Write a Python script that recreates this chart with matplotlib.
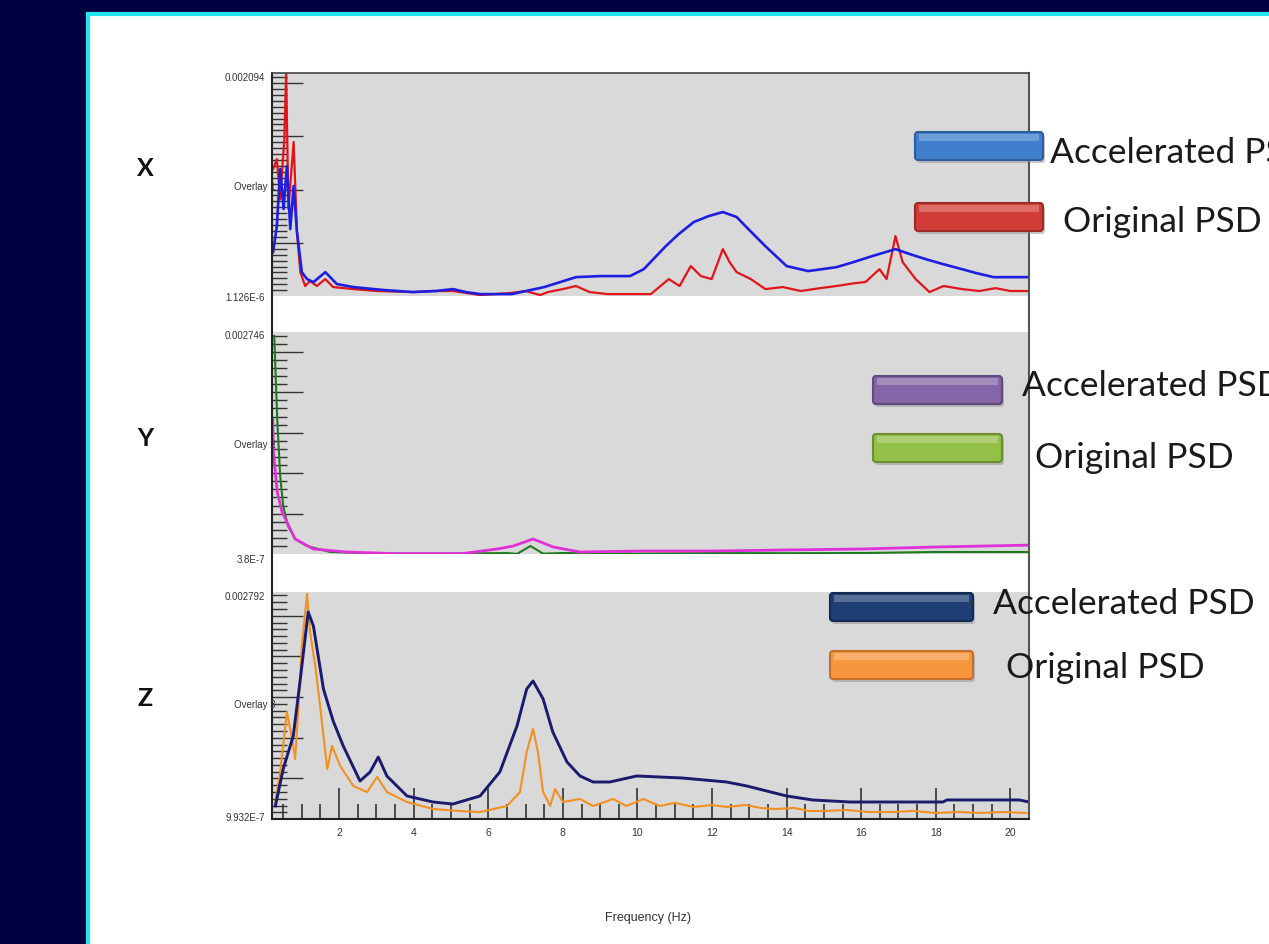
import numpy as np
import matplotlib
matplotlib.use('agg')
import matplotlib.pyplot as plt
from matplotlib.patches import Rectangle, FancyBboxPatch
from matplotlib.ticker import MultipleLocator, AutoMinorLocator

W, H = 1269, 945
PSD_SCALE = 1e-4   # values below are in 1e-4 g^2/Hz

# ---- X direction ----
freq_x_acc = [0.23, 0.33, 0.42, 0.51, 0.60, 0.69, 0.78, 0.87, 1.0, 1.14, 1.31, 1.63, 1.94,
              2.38, 3.2, 3.98, 4.6, 5.05, 5.4, 5.78, 6.63, 7.5, 8.35, 9.0, 9.8, 10.17, 10.76,
              11.1, 11.51, 11.9, 12.29, 12.66, 13.0, 13.43, 14.0, 14.58, 15.34, 15.8, 16.3,
              16.92, 17.3, 17.73, 18.2, 18.7, 19.1, 19.55, 20.5]
psd_x_acc = [4.13, 6.57, 11.92, 8.17, 12.2, 6.29, 10.33, 6.01, 2.25, 1.6, 1.31, 2.25, 1.13,
             0.85, 0.57, 0.38, 0.48, 0.66, 0.38, 0.19, 0.19, 0.85, 1.78, 1.88, 1.88, 2.53, 4.69,
             5.8, 6.95, 7.5, 7.89, 7.42, 6.2, 4.69, 2.82, 2.35, 2.72, 3.2, 3.76,
             4.41, 3.95, 3.47, 3.0, 2.53, 2.15, 1.78, 1.78]
freq_x_orig = [0.23, 0.33, 0.42, 0.53, 0.58, 0.64, 0.78, 0.87, 0.96, 1.09, 1.22, 1.40, 1.63,
               1.84, 2.38, 3.0, 3.98, 4.5, 5.05, 5.78, 6.6, 7.0, 7.39, 7.6, 8.0, 8.35, 8.72,
               9.2, 9.8, 10.36, 10.84, 11.13, 11.43, 11.7, 11.99, 12.29, 12.47, 12.66, 13.04,
               13.43, 13.9, 14.38, 14.9, 15.34, 15.8, 16.12, 16.49, 16.68, 16.92, 17.11, 17.46,
               17.83, 18.21, 18.7, 19.17, 19.6, 20.0, 20.5]
psd_x_orig = [11.92, 12.86, 9.1, 14.7, 20.9, 8.17, 14.46, 6.01, 2.25, 0.95, 1.42, 0.95, 1.6,
              0.85, 0.66, 0.48, 0.38, 0.48, 0.48, 0.10, 0.29, 0.48, 0.10, 0.38, 0.66, 0.95, 0.38,
              0.19, 0.19, 0.19, 1.6, 0.95, 2.82, 1.88, 1.6, 4.41, 3.2, 2.25, 1.6,
              0.66, 0.85, 0.48, 0.75, 0.95, 1.2, 1.33, 2.53, 1.6, 5.64, 3.2, 1.6,
              0.38, 0.95, 0.66, 0.48, 0.75, 0.48, 0.48]

# ---- Y direction ----
freq_y_acc = [0.22, 0.24, 0.34, 0.47, 0.60, 0.82, 1.31, 2.2, 3.5, 5.3, 6.23, 6.67, 7.2,
              7.74, 8.46, 10.0, 12.0, 14.0, 16.0, 18.0, 20.5]
psd_y_acc = [16.7, 12.6, 7.67, 5.2, 3.96, 1.86, 0.62, 0.25, 0.05, 0.05, 0.62, 0.99, 1.86,
             0.87, 0.25, 0.37, 0.37, 0.5, 0.62, 0.87, 1.1]
freq_y_orig = [0.26, 0.34, 0.42, 0.50, 0.63, 0.82, 1.14, 1.76, 3.0, 5.0, 6.5, 6.77, 7.13,
               7.47, 8.0, 10.0, 12.0, 14.0, 16.0, 18.0, 20.5]
psd_y_orig = [26.97, 16.7, 9.65, 5.94, 3.46, 1.86, 0.99, 0.25, 0.05, 0.05, 0.12, 0.02, 0.99,
              0.05, 0.12, 0.05, 0.12, 0.1, 0.12, 0.25, 0.25]

# ---- Z direction ----
freq_z_acc = [0.29, 0.50, 0.77, 0.96, 1.17, 1.31, 1.58, 1.84, 2.11, 2.56, 2.83, 3.05, 3.28,
              3.82, 4.52, 5.05, 5.78, 6.31, 6.77, 7.03, 7.2, 7.47, 7.73, 8.11, 8.46, 8.81,
              9.26, 9.98, 11.2, 12.39, 12.93, 14.0, 14.7, 15.7, 18.19, 18.3, 20.24, 20.5]
psd_z_acc = [1.61, 6.16, 10.22, 17.23, 25.47, 23.75, 16.0, 12.06, 8.99, 4.68, 5.79, 7.63, 5.3,
             2.84, 2.1, 1.85, 2.84, 5.79, 11.45, 16.0, 16.98, 14.77, 10.71, 7.02, 5.3, 4.56,
             4.56, 5.3, 5.05, 4.56, 4.07, 2.84, 2.35, 2.1, 2.1, 2.35, 2.35, 2.1]
freq_z_orig = [0.29, 0.42, 0.60, 0.74, 0.82, 0.90, 1.0, 1.14, 1.22, 1.36, 1.49, 1.68, 1.81,
               2.03, 2.38, 2.75, 3.02, 3.28, 3.82, 4.52, 5.2, 5.78, 6.5, 6.85, 7.03, 7.2,
               7.33, 7.47, 7.66, 7.79, 8.0, 8.46, 8.81, 9.35, 9.7, 10.16, 10.6, 11.0, 11.5,
               12.0, 12.4, 12.9, 13.3, 13.7, 14.2, 14.6, 15.07, 15.6, 16.2, 16.85, 17.4,
               18.0, 18.63, 19.2, 19.8, 20.43]
psd_z_orig = [2.1, 5.79, 13.17, 9.85, 7.39, 13.17, 21.29, 27.7, 23.0, 18.83, 13.91, 6.16, 8.99,
              6.53, 4.07, 3.33, 5.18, 3.33, 2.1, 1.24, 1.0, 0.87, 1.61, 3.33, 8.25, 11.08,
              8.25, 3.33, 1.61, 3.7, 2.1, 2.47, 1.61, 2.47, 1.61, 2.47, 1.61, 2.0, 1.49,
              1.73, 1.49, 1.73, 1.37, 1.24, 1.37, 1.0, 1.0, 1.12, 0.87, 0.87, 1.0,
              0.75, 0.87, 0.75, 0.87, 0.75]

y_limits = [(1.126e-6, 0.002094), (3.8e-7, 0.002746), (9.932e-7, 0.002792)]
y_top_labels = ['0.002094', '0.002746', '0.002792']
y_bottom_labels = ['1.126E-6', '3.8E-7', '9.932E-7']
overlay_labels = ['Overlay 1', 'Overlay 2', 'Overlay 3']
axis_names = ['X', 'Y', 'Z']
legend_labels = ['Accelerated PSD', 'Original PSD']
x_tick_values = [2, 4, 6, 8, 10, 12, 14, 16, 18, 20]

series = [
    (freq_x_acc, psd_x_acc, freq_x_orig, psd_x_orig),
    (freq_y_acc, psd_y_acc, freq_y_orig, psd_y_orig),
    (freq_z_acc, psd_z_acc, freq_z_orig, psd_z_orig),
]
line_colors = [('#1c1ee0', '#e0141a'), ('#e030d8', '#1e7a1e'), ('#1a1a6e', '#f39020')]
line_widths = [(1.9, 1.6), (2.0, 1.5), (2.1, 1.5)]
box_colors = [('#3f7fcc', '#2d5e9c'), ('#d23c36', '#9e2a26'),
              ('#8466a6', '#5e4a7c'), ('#93c047', '#6c8f30'),
              ('#1f3f75', '#142a50'), ('#f7963c', '#c2702a')]
minor_counts = [9, 5, 6]

# pixel layout of the three panels
panel_top = [74, 333, 593]
panel_bottom = [297, 555, 820]
plot_left, plot_right = 272, 1029


def fig_box(left, top, right, bottom):
    return [left / W, 1 - bottom / H, (right - left) / W, (bottom - top) / H]


fig = plt.figure(figsize=(W / 100, H / 100), dpi=100, facecolor='#010142')

# slide background with cyan border
bg = fig.add_axes([0, 0, 1, 1], zorder=-5)
bg.set_xlim(0, W)
bg.set_ylim(H, 0)
bg.axis('off')
bg.add_patch(Rectangle((88, 15), 1300, 1000, fc='white', ec='#25e3f0', lw=3))

for i in range(3):
    ax = fig.add_axes(fig_box(plot_left, panel_top[i], plot_right, panel_bottom[i]), zorder=1)
    ax.set_facecolor('#d9d9d9')
    fa, pa, fo, po = series[i]
    ca, co = line_colors[i]
    wa, wo = line_widths[i]
    if i == 0:
        ax.plot(fa, np.array(pa) * PSD_SCALE, color=ca, lw=wa, zorder=3)
        ax.plot(fo, np.array(po) * PSD_SCALE, color=co, lw=wo, zorder=2)
    else:
        ax.plot(fo, np.array(po) * PSD_SCALE, color=co, lw=wo, zorder=2)
        ax.plot(fa, np.array(pa) * PSD_SCALE, color=ca, lw=wa, zorder=3)
    ax.set_xlim(0.2, 20.5)
    ax.set_ylim(*y_limits[i])
    for s in ax.spines.values():
        s.set_visible(False)
    ax.yaxis.set_major_locator(MultipleLocator(5e-4))
    ax.yaxis.set_minor_locator(AutoMinorLocator(minor_counts[i]))
    ax.tick_params(axis='y', which='major', direction='in', length=22, width=1,
                   color='#333333', labelleft=False)
    ax.tick_params(axis='y', which='minor', direction='in', length=11, width=1,
                   color='#333333')
    if i < 2:
        ax.tick_params(axis='x', which='both', bottom=False, labelbottom=False)
    else:
        ax.set_xticks(x_tick_values)
        ax.xaxis.set_minor_locator(MultipleLocator(0.5))
        ax.tick_params(axis='x', which='major', direction='in', length=22, width=1.2,
                       color='#333333', labelsize=7.5, labelcolor='#333333', pad=6)
        ax.tick_params(axis='x', which='minor', direction='in', length=11, width=1.2,
                       color='#333333')
        for lab in ax.get_xticklabels():
            lab.set_family('Liberation Sans')

# frame round the whole chart
frame = fig.add_axes(fig_box(plot_left, panel_top[0], plot_right, panel_bottom[2]), zorder=2)
frame.set_facecolor('none')
frame.set_xticks([])
frame.set_yticks([])
frame.spines['left'].set_color('#222222')
frame.spines['left'].set_linewidth(1.5)
frame.spines['bottom'].set_color('#222222')
frame.spines['bottom'].set_linewidth(1.5)
frame.spines['top'].set_color('#444444')
frame.spines['top'].set_linewidth(1.2)
frame.spines['right'].set_color('#555555')
frame.spines['right'].set_linewidth(1.5)

# overlay for labels and legend boxes, in pixel units
ov = fig.add_axes([0, 0, 1, 1], zorder=10)
ov.set_xlim(0, W)
ov.set_ylim(H, 0)
ov.axis('off')

small = dict(family='Liberation Sans', fontsize=7, color='#333333', va='center')
top_label_y = [78, 336, 597]
mid_label_y = [187, 445, 705]
bottom_label_y = [298, 560, 818]
name_y = [168, 438, 698]
for i in range(3):
    ov.text(265, top_label_y[i], y_top_labels[i], ha='right', **small)
    ov.text(276, mid_label_y[i], overlay_labels[i], ha='right', **small)
    ov.text(265, bottom_label_y[i], y_bottom_labels[i], ha='right', **small)
    ov.text(145, name_y[i], axis_names[i], ha='center', va='center', fontsize=18,
            weight='bold', family='Lato', color='#111111')

ov.text(648, 918, 'Frequency (Hz)', ha='center', va='center', family='Liberation Sans',
        fontsize=9, color='#333333')

# legend boxes: (x0, x1, top of accelerated box, top of original box)
box_pos = [(915, 1043, 133, 204), (873, 1002, 377, 435), (830, 973, 594, 652)]
text_pos = [((1050, 153), (1063, 222)), ((1022, 386), (1035, 458)), ((993, 604), (1006, 668))]
box_h = 28
for i in range(3):
    x0, x1, ya, yo = box_pos[i]
    for k, ytop in enumerate([ya, yo]):
        fc, ec = box_colors[2 * i + k]
        ov.add_patch(FancyBboxPatch((x0 + 2, ytop + 3), x1 - x0, box_h,
                                    boxstyle='round,pad=0,rounding_size=3',
                                    fc='#888888', ec='none', alpha=0.45))
        ov.add_patch(FancyBboxPatch((x0, ytop), x1 - x0, box_h,
                                    boxstyle='round,pad=0,rounding_size=3',
                                    fc=fc, ec=ec, lw=1.5))
        ov.add_patch(Rectangle((x0 + 4, ytop + 2), x1 - x0 - 8, 7, fc='white',
                               ec='none', alpha=0.25))
        tx, ty = text_pos[i][k]
        ov.text(tx, ty, legend_labels[k], ha='left', va='center', family='Lato',
                fontsize=25.5, color='#1a1a1a')

fig.savefig('out.png', dpi=100, facecolor=fig.get_facecolor())
